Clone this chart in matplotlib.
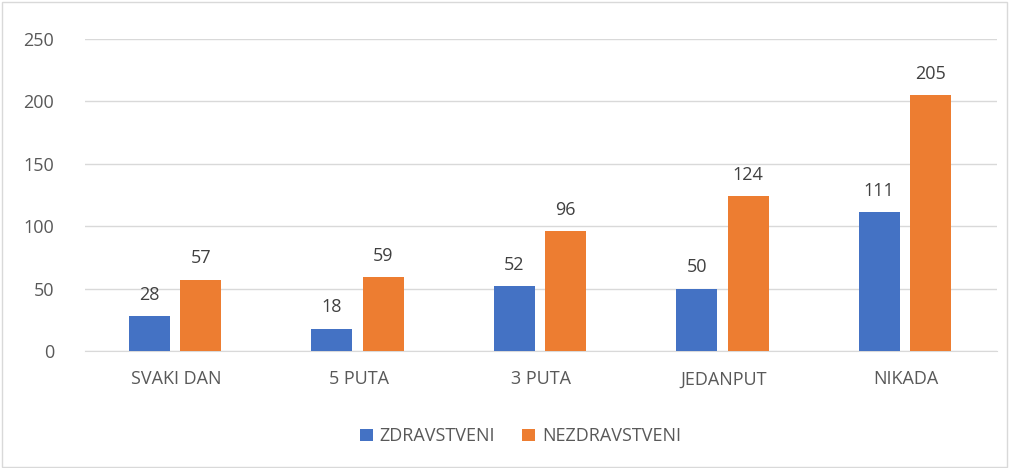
import matplotlib.pyplot as plt
import numpy as np
from matplotlib.patches import Rectangle

categories = ['SVAKI DAN', '5 PUTA', '3 PUTA', 'JEDANPUT', 'NIKADA']
zdravstveni = [28, 18, 52, 50, 111]
nezdravstveni = [57, 59, 96, 124, 205]
yticks = [0, 50, 100, 150, 200, 250]

plt.rcParams['font.family'] = ['Open Sans', 'DejaVu Sans']

fig = plt.figure(figsize=(10.11, 4.68), dpi=100)
ax = fig.add_axes([0.084, 0.25, 0.902, 0.667])

x = np.arange(len(categories))
w = 0.225
b1 = ax.bar(x - 0.146, zdravstveni, w, color='#4472C4', label='ZDRAVSTVENI', zorder=3)
b2 = ax.bar(x + 0.136, nezdravstveni, w, color='#ED7D31', label='NEZDRAVSTVENI', zorder=3)

for bars in (b1, b2):
    for r in bars:
        ax.text(r.get_x() + r.get_width() / 2, r.get_height() + 10, str(int(r.get_height())),
                ha='center', va='bottom', fontsize=13, color='#404040')

ax.set_xlim(-0.5, 4.5)
ax.set_ylim(0, 250)
ax.set_yticks(yticks)
ax.set_xticks(x)
ax.set_xticklabels(categories)
ax.grid(axis='y', color='#D9D9D9', linewidth=1, zorder=0)
for s in ['top', 'right', 'left']:
    ax.spines[s].set_visible(False)
ax.spines['bottom'].set_color('#D9D9D9')
ax.tick_params(axis='both', length=0, labelsize=13, colors='#595959')
ax.tick_params(axis='x', pad=14)
ax.tick_params(axis='y', pad=22)

fig.legend(loc='center', bbox_to_anchor=(0.515, 0.068), ncol=2, frameon=False,
           fontsize=13, handlelength=0.7, handleheight=0.7, columnspacing=1.5,
           handletextpad=0.4, labelcolor='#595959')

fig.add_artist(Rectangle((0.002, 0.003), 0.994, 0.993, transform=fig.transFigure,
                         fill=False, edgecolor='#D9D9D9', linewidth=1))

fig.savefig('out.png', dpi=100)
